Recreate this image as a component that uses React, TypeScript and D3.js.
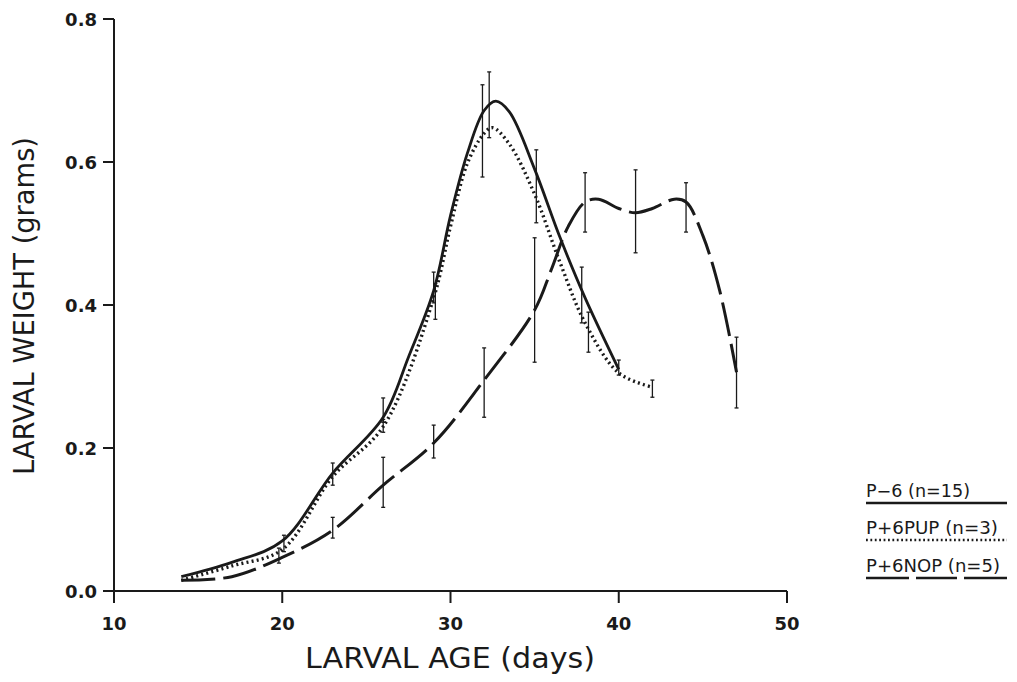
import React from 'react';
import * as d3 from 'd3';

// curve control points: [day, grams]
const solidCurve: [number, number][] = [
  [14, 0.02], [17, 0.04], [20, 0.07], [23, 0.165], [26, 0.243], [27.5, 0.327],
  [29, 0.42], [30, 0.525], [31, 0.612], [32, 0.672], [32.7, 0.685], [33.5, 0.67],
  [35, 0.59], [36.5, 0.495], [38, 0.41], [40, 0.31],
];
const dottedCurve: [number, number][] = [
  [14, 0.015], [17, 0.035], [20, 0.058], [23, 0.16], [26, 0.23], [29, 0.41],
  [30, 0.51], [31, 0.598], [32, 0.64], [32.5, 0.648], [33.5, 0.625], [35, 0.555],
  [36.5, 0.46], [38, 0.375], [40, 0.305], [42, 0.285],
];
const dashedCurve: [number, number][] = [
  [14, 0.015], [17, 0.02], [20, 0.047], [23, 0.085], [26, 0.148], [29, 0.207],
  [32, 0.295], [35, 0.393], [36, 0.45], [37, 0.51], [38, 0.544], [38.8, 0.548],
  [40, 0.535], [41, 0.529], [42, 0.535], [43.3, 0.548], [44, 0.544], [45, 0.497],
  [46, 0.42], [47, 0.306],
];

// error bars: [day, low, high]
const solidErr: [number, number, number][] = [
  [20.1, 0.055, 0.078], [23, 0.148, 0.179], [26, 0.236, 0.27], [29, 0.403, 0.446],
  [32.3, 0.634, 0.726], [35.1, 0.515, 0.617], [37.8, 0.375, 0.453], [40, 0.302, 0.323],
];
const dottedErr: [number, number, number][] = [
  [26, 0.222, 0.24], [29.1, 0.38, 0.43], [31.9, 0.579, 0.708], [38.2, 0.334, 0.39],
  [42, 0.271, 0.295],
];
const dashedErr: [number, number, number][] = [
  [19.8, 0.039, 0.06], [23, 0.074, 0.103], [26, 0.117, 0.187], [29, 0.186, 0.232],
  [32, 0.243, 0.34], [35, 0.32, 0.494], [38, 0.502, 0.585], [41, 0.473, 0.589],
  [44, 0.502, 0.571], [47, 0.256, 0.355],
];

const xTicks = [10, 20, 30, 40, 50];
const yTicks = [0, 0.2, 0.4, 0.6, 0.8];
const legendLabels = ['P\u22126 (n=15)', 'P+6PUP (n=3)', 'P+6NOP (n=5)'];

const ink = '#1a1a1a';

export default function App() {
  const x = d3.scaleLinear().domain([10, 50]).range([114, 787]);
  const y = d3.scaleLinear().domain([0, 0.8]).range([591, 19]);

  const line = d3
    .line<[number, number]>()
    .x((d) => x(d[0]))
    .y((d) => y(d[1]))
    .curve(d3.curveCatmullRom.alpha(0.5));

  const bars = (data: [number, number, number][], key: string) =>
    data.map(([d, lo, hi], i) => (
      <g key={key + i} stroke={ink} strokeWidth={1.3}>
        <line x1={x(d)} x2={x(d)} y1={y(lo)} y2={y(hi)} />
        <line x1={x(d) - 2} x2={x(d) + 2} y1={y(lo)} y2={y(lo)} />
        <line x1={x(d) - 2} x2={x(d) + 2} y1={y(hi)} y2={y(hi)} />
      </g>
    ));

  const font = 'DejaVu Sans, sans-serif';

  return (
    <div style={{ position: 'absolute', left: 0, top: 0 }}>
      <svg width={1017} height={682} style={{ display: 'block', background: '#fff' }}>
        {/* axes */}
        <g stroke={ink} strokeWidth={2} fill="none">
          <line x1={114} x2={114} y1={19} y2={603} />
          <line x1={114} x2={787} y1={591} y2={591} />
          {xTicks.map((t) => (
            <line key={'xt' + t} x1={x(t)} x2={x(t)} y1={591} y2={603} />
          ))}
          {yTicks.map((t) => (
            <line key={'yt' + t} x1={103} x2={114} y1={y(t)} y2={y(t)} />
          ))}
        </g>
        {xTicks.map((t) => (
          <text key={'xl' + t} x={x(t)} y={630} textAnchor="middle"
            fontFamily={font} fontSize={18} fontWeight="bold" fill={ink}>
            {t}
          </text>
        ))}
        {yTicks.map((t) => (
          <text key={'yl' + t} x={97} y={y(t) + 6.5} textAnchor="end"
            fontFamily={font} fontSize={18} fontWeight="bold" fill={ink}>
            {t.toFixed(1)}
          </text>
        ))}
        <text x={450} y={668} textAnchor="middle" fontFamily={font} fontSize={28}
          fill={ink} textLength={290} lengthAdjust="spacingAndGlyphs">
          LARVAL AGE (days)
        </text>
        <text transform="translate(34,306) rotate(-90)" textAnchor="middle"
          fontFamily={font} fontSize={28} fill={ink} textLength={338}
          lengthAdjust="spacingAndGlyphs">
          LARVAL WEIGHT (grams)
        </text>

        {/* curves */}
        <path d={line(dashedCurve) ?? ''} fill="none" stroke={ink} strokeWidth={3}
          strokeDasharray="34 8" />
        <path d={line(dottedCurve) ?? ''} fill="none" stroke={ink} strokeWidth={3.4}
          strokeDasharray="2 3.2" />
        <path d={line(solidCurve) ?? ''} fill="none" stroke={ink} strokeWidth={2.8} />

        {bars(solidErr, 's')}
        {bars(dottedErr, 'p')}
        {bars(dashedErr, 'n')}

        {/* legend */}
        {legendLabels.map((label, i) => {
          const by = [497, 534, 572][i];
          return (
            <g key={'lg' + i}>
              <text x={866} y={by} fontFamily={font} fontSize={17} fill={ink}
                textLength={[104, 132, 134][i]} lengthAdjust="spacingAndGlyphs">
                {label}
              </text>
              <line x1={866} x2={1007} y1={by + 6} y2={by + 6} stroke={ink}
                strokeWidth={2.6}
                strokeDasharray={i === 1 ? '1.8 2.6' : i === 2 ? '43 7 41 7 42 0' : undefined} />
            </g>
          );
        })}
      </svg>
    </div>
  );
}
